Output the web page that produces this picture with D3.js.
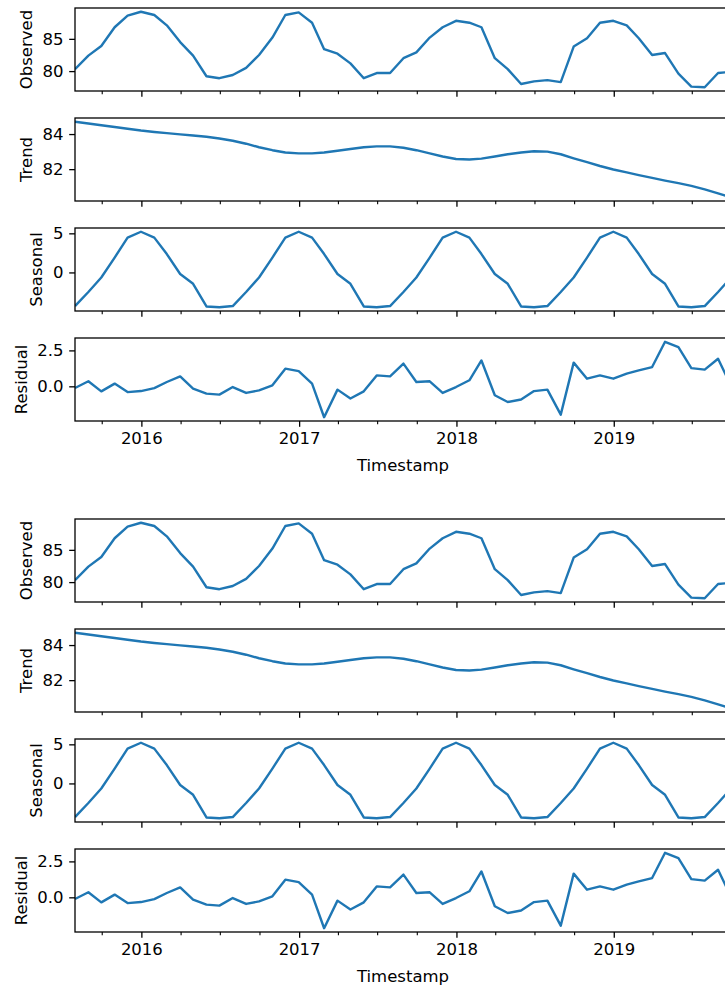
<!DOCTYPE html>
<html>
<head>
<meta charset="utf-8">
<script src="https://cdn.jsdelivr.net/npm/d3@7"></script>
<style>
  body { margin: 0; background: #fff; }
  text { font-family: "DejaVu Sans", sans-serif; font-size: 16.5px; fill: #000; }
</style>
</head>
<body>
<svg id="chart" width="725" height="990"></svg>
<script>
// monthly timestamps (month end)
const dates = [
  "2015-07-31","2015-08-31","2015-09-30","2015-10-31","2015-11-30","2015-12-31",
  "2016-01-31","2016-02-29","2016-03-31","2016-04-30","2016-05-31","2016-06-30",
  "2016-07-31","2016-08-31","2016-09-30","2016-10-31","2016-11-30","2016-12-31",
  "2017-01-31","2017-02-28","2017-03-31","2017-04-30","2017-05-31","2017-06-30",
  "2017-07-31","2017-08-31","2017-09-30","2017-10-31","2017-11-30","2017-12-31",
  "2018-01-31","2018-02-28","2018-03-31","2018-04-30","2018-05-31","2018-06-30",
  "2018-07-31","2018-08-31","2018-09-30","2018-10-31","2018-11-30","2018-12-31",
  "2019-01-31","2019-02-28","2019-03-31","2019-04-30","2019-05-31","2019-06-30",
  "2019-07-31","2019-08-31","2019-09-30"
];

const observed = [
  80.3, 82.4, 83.9, 86.8, 88.6, 89.2,
  88.7, 87.1, 84.5, 82.4, 79.2, 78.9, 79.4, 80.5, 82.5, 85.2, 88.7, 89.1,
  87.5, 83.4, 82.7, 81.2, 78.9, 79.7, 79.7, 82.0, 82.9, 85.2, 86.8, 87.8,
  87.5, 86.8, 82.0, 80.3, 78.0, 78.4, 78.6, 78.3, 83.8, 85.1, 87.5, 87.8,
  87.1, 85.1, 82.5, 82.8, 79.6, 77.6, 77.5, 79.7, 79.9
];

const trend = [
  84.70, 84.60, 84.50, 84.40, 84.30, 84.20,
  84.12, 84.05, 83.98, 83.92, 83.85, 83.75, 83.62, 83.45, 83.25, 83.08, 82.95, 82.90,
  82.90, 82.95, 83.05, 83.15, 83.25, 83.30, 83.30, 83.22, 83.08, 82.90, 82.72, 82.58,
  82.55, 82.60, 82.72, 82.85, 82.95, 83.02, 83.00, 82.85, 82.62, 82.40, 82.18, 81.98,
  81.82, 81.66, 81.50, 81.35, 81.20, 81.05, 80.85, 80.62, 80.40
];

const seasonal = [
  -4.30, -2.50, -0.65, 1.90, 4.45, 5.20,
  4.45, 2.35, -0.20, -1.45, -4.35, -4.45, -4.30, -2.50, -0.65, 1.90, 4.45, 5.20,
  4.45, 2.35, -0.20, -1.45, -4.35, -4.45, -4.30, -2.50, -0.65, 1.90, 4.45, 5.20,
  4.45, 2.35, -0.20, -1.45, -4.35, -4.45, -4.30, -2.50, -0.65, 1.90, 4.45, 5.20,
  4.45, 2.35, -0.20, -1.45, -4.35, -4.45, -4.30, -2.50, -0.65
];

const residual = [
  -0.12, 0.35, -0.35, 0.19, -0.40, -0.33,
  -0.12, 0.30, 0.69, -0.16, -0.51, -0.58, -0.05, -0.46, -0.28, 0.07, 1.23, 1.06,
  0.19, -2.15, -0.23, -0.85, -0.35, 0.76, 0.69, 1.58, 0.30, 0.35, -0.46, -0.05,
  0.42, 1.80, -0.62, -1.09, -0.92, -0.33, -0.23, -1.97, 1.65, 0.53, 0.76, 0.53,
  0.88, 1.11, 1.34, 3.10, 2.73, 1.27, 1.16, 1.92, 0.03
];

const observedTicks = [80, 85];
const trendTicks = [82, 84];
const seasonalTicks = [0, 5];
const residualTicks = [0.0, 2.5];

const yearTicks = ["2016-01-01", "2017-01-01", "2018-01-01", "2019-01-01"];
const quarterTicks = [
  "2015-10-01",
  "2016-04-01", "2016-07-01", "2016-10-01",
  "2017-04-01", "2017-07-01", "2017-10-01",
  "2018-04-01", "2018-07-01", "2018-10-01",
  "2019-04-01", "2019-07-01"
];

const parse = d3.timeParse("%Y-%m-%d");
const times = dates.map(parse);

const panels = [
  { label: "Observed", values: observed, ticks: observedTicks, fmt: d3.format("d") },
  { label: "Trend", values: trend, ticks: trendTicks, fmt: d3.format("d") },
  { label: "Seasonal", values: seasonal, ticks: seasonalTicks, fmt: d3.format("d") },
  { label: "Residual", values: residual, ticks: residualTicks, fmt: d3.format(".1f") }
];

// layout (px)
const left = 75, right = 731;
const panelH = 83, panelStep = 110;
const figTops = [8, 519];
const tickLen = 5.8, minorLen = 3.3, tickPad = 5.8, labelPad = 6.7;
const lineColor = "#1f77b4";

const svg = d3.select("#chart");

const x = d3.scaleTime()
  .domain(d3.extent(times))
  .range([left, right]);

let clipId = 0;

function drawFigure(top) {
  panels.forEach((p, i) => {
    const y0 = top + i * panelStep;
    const ext = d3.extent(p.values);
    const pad = (ext[1] - ext[0]) * 0.05;
    const y = d3.scaleLinear()
      .domain([ext[0] - pad, ext[1] + pad])
      .range([y0 + panelH, y0]);

    const g = svg.append("g");

    const cid = "clip" + (clipId++);
    g.append("clipPath").attr("id", cid)
      .append("rect")
      .attr("x", left).attr("y", y0)
      .attr("width", right - left).attr("height", panelH);

    const line = d3.line()
      .x((d, k) => x(times[k]))
      .y(d => y(d));

    g.append("path")
      .datum(p.values)
      .attr("clip-path", `url(#${cid})`)
      .attr("fill", "none")
      .attr("stroke", lineColor)
      .attr("stroke-width", 2.4)
      .attr("stroke-linejoin", "round")
      .attr("d", line);

    // y axis
    const yAxis = d3.axisLeft(y)
      .tickValues(p.ticks)
      .tickFormat(p.fmt)
      .tickSize(tickLen)
      .tickPadding(tickPad);
    const yg = g.append("g")
      .attr("transform", `translate(${left},0)`)
      .call(yAxis);
    yg.select(".domain").remove();
    yg.selectAll("line").attr("stroke", "#000").attr("stroke-width", 1.3);
    yg.selectAll("text").attr("font-size", null).attr("font-family", null).attr("fill", "#000");
    yg.attr("font-size", null).attr("font-family", null);

    // widest tick label decides where the y label goes
    let maxW = 0;
    yg.selectAll("text").each(function () {
      maxW = Math.max(maxW, this.getComputedTextLength());
    });

    // x axis, major (years) and minor (quarters)
    const last = i === panels.length - 1;
    const xAxis = d3.axisBottom(x)
      .tickValues(yearTicks.map(parse))
      .tickFormat(last ? d3.timeFormat("%Y") : () => "")
      .tickSize(tickLen)
      .tickPadding(tickPad);
    const xg = g.append("g")
      .attr("transform", `translate(0,${y0 + panelH})`)
      .call(xAxis);
    xg.select(".domain").remove();
    xg.selectAll("line").attr("stroke", "#000").attr("stroke-width", 1.3);
    xg.attr("font-size", null).attr("font-family", null);
    xg.selectAll("text").attr("fill", "#000");

    const xMinor = d3.axisBottom(x)
      .tickValues(quarterTicks.map(parse))
      .tickFormat(() => "")
      .tickSize(minorLen);
    const xmg = g.append("g")
      .attr("transform", `translate(0,${y0 + panelH})`)
      .call(xMinor);
    xmg.select(".domain").remove();
    xmg.selectAll("line").attr("stroke", "#000").attr("stroke-width", 1.1);

    // frame
    g.append("rect")
      .attr("x", left).attr("y", y0)
      .attr("width", right - left).attr("height", panelH)
      .attr("fill", "none")
      .attr("stroke", "#000")
      .attr("stroke-width", 1.3);

    // y label
    const lx = left - tickLen - tickPad - maxW - labelPad - 3.9;
    g.append("text")
      .attr("transform", `translate(${lx},${y0 + panelH / 2}) rotate(-90)`)
      .attr("text-anchor", "middle")
      .text(p.label);

    if (last) {
      g.append("text")
        .attr("x", (left + right) / 2)
        .attr("y", y0 + panelH + 50)
        .attr("text-anchor", "middle")
        .text("Timestamp");
    }
  });
}

figTops.forEach(drawFigure);
</script>
</body>
</html>
